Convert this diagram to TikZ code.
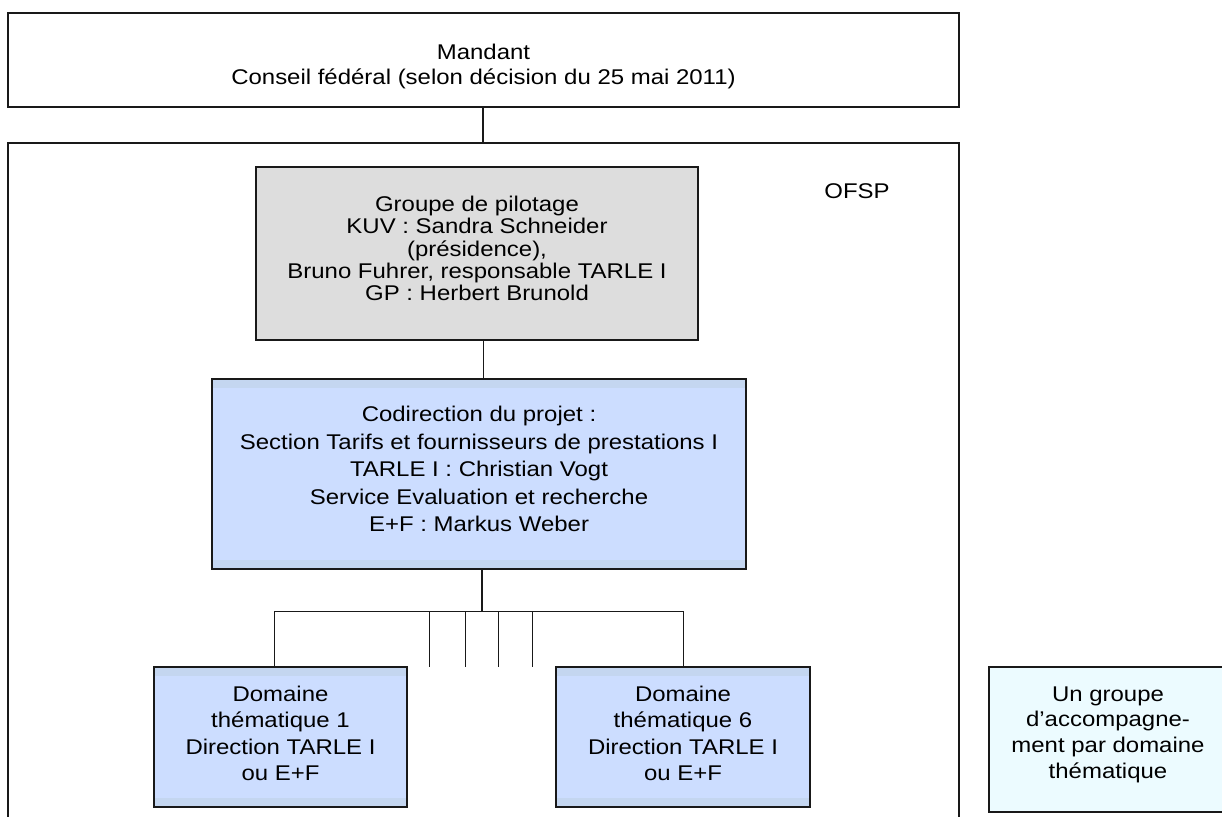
\documentclass[tikz,border=0pt]{standalone}
\usepackage{fontspec}
\setmainfont{Liberation Sans}
\newfontfamily\widefont[FakeStretch=1.125]{Liberation Sans}
\definecolor{bluefill}{RGB}{204,221,255}
\definecolor{blueband}{RGB}{196,214,240}
\definecolor{grayfill}{RGB}{221,221,221}
\definecolor{cyanfill}{RGB}{236,251,255}
\definecolor{edgecol}{RGB}{25,25,25}
\tikzset{
  boxshape/.style={draw=edgecol, line width=1.8pt, inner sep=0pt, outer sep=0pt, anchor=north west, rectangle},
  bandbox/.style={boxshape, fill=bluefill, path picture={
      \fill[blueband] (path picture bounding box.north west) rectangle ([yshift=-9pt]path picture bounding box.north east);
      \fill[blueband] (path picture bounding box.south west) rectangle ([yshift=9pt]path picture bounding box.south east);}},
  lbl/.style={font={\widefont\fontsize{21.3pt}{#1}\selectfont}, align=center, inner sep=0pt, text=black},
  thickconn/.style={draw=edgecol, line width=1.6pt},
  thinconn/.style={draw=edgecol, line width=0.9pt}
}
\begin{document}
\begin{tikzpicture}[x=1pt,y=-1pt]
\useasboundingbox (0,0) rectangle (1222,816);
\clip (0,0) rectangle (1222,816);
\fill[white] (0,0) rectangle (1222,816);
% boxes
\node[boxshape, fill=white, minimum width=951pt, minimum height=94pt] (mandant) at (8,13) {};
\node[boxshape, minimum width=951pt, minimum height=720pt] (ofspbox) at (8,143) {};
\node[boxshape, fill=grayfill, minimum width=442pt, minimum height=173pt] (pilot) at (256,167) {};
\node[bandbox, minimum width=534pt, minimum height=190pt] (codir) at (212,379) {};
\node[bandbox, minimum width=253pt, minimum height=140pt] (dom1) at (154,667) {};
\node[bandbox, minimum width=254pt, minimum height=140pt] (dom6) at (556,667) {};
\node[boxshape, fill=cyanfill, minimum width=239pt, minimum height=145pt] (accomp) at (989,667) {};
% texts
\node[lbl=25pt] (tmandant) at (483.5,66.5) {Mandant\\Conseil fédéral (selon décision du 25 mai 2011)};
\node[lbl=22.3pt] (tpilot) at (477,248.5) {Groupe de pilotage\\KUV : Sandra Schneider\\(présidence),\\Bruno Fuhrer, responsable TARLE I\\GP : Herbert Brunold};
\node[lbl=27.5pt] (tcodir) at (479,469) {Codirection du projet :\\Section Tarifs et fournisseurs de prestations I\\TARLE I : Christian Vogt\\Service Evaluation et recherche\\E+F : Markus Weber};
\node[lbl=26.3pt] (tdom1) at (280.5,733.5) {Domaine\\thématique 1\\Direction TARLE I\\ou E+F};
\node[lbl=26.3pt] (tdom6) at (683,733.5) {Domaine\\thématique 6\\Direction TARLE I\\ou E+F};
\node[lbl=25.7pt] (taccomp) at (1108,734.5) {Un groupe\\d’accompagne-\\ment par domaine\\thématique};
\node[lbl=20pt] (tofsp) at (857,191) {OFSP};
% connectors
\coordinate (trunk) at (483,0);
\draw[thickconn] (mandant.south -| trunk) -- (ofspbox.north -| trunk);
\draw[thinconn] (pilot.south -| trunk) -- (codir.north -| trunk);
\coordinate (bar) at (482,611);
\draw[thickconn] (codir.south -| bar) -- (bar);
\coordinate (b1) at (274,611);
\coordinate (b6) at (683,611);
\draw[thinconn] (dom1.north -| b1) -- (b1) -- (b6) -- (dom6.north -| b6);
\foreach \xx/\nm in {429/s1,465/s2,498/s3,532/s4}{
  \coordinate (\nm top) at (\xx,611);
  \coordinate (\nm end) at (\xx,667);
  \draw[thinconn] (\nm top) -- (\nm end);
}
\end{tikzpicture}
\end{document}
